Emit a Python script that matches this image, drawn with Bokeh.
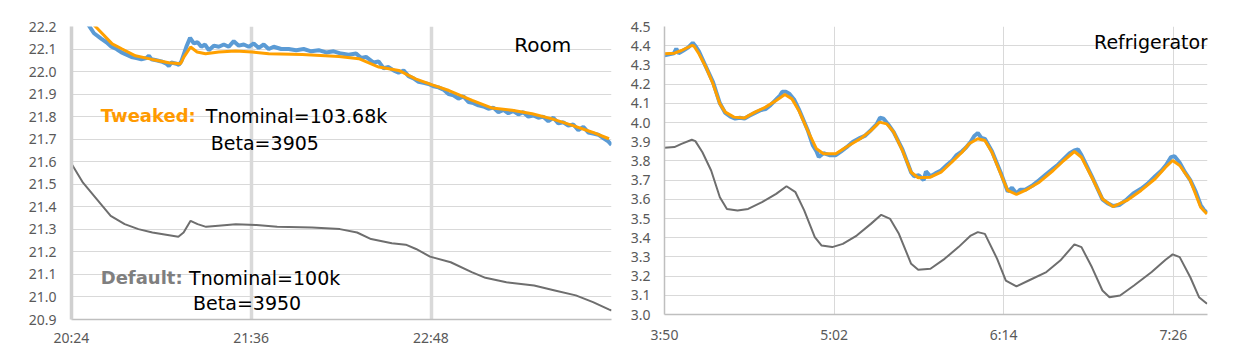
from bokeh.plotting import figure
from bokeh.models import Range1d, FixedTicker, Label, PrintfTickFormatter
from bokeh.layouts import row
from bokeh.embed import file_html
from bokeh.resources import INLINE

# ---------------- Room (times in minutes since midnight) ----------------
room_tick_values = [1224, 1296, 1368]
room_tick_labels = ["20:24", "21:36", "22:48"]
room_y_ticks = [20.9, 21.0, 21.1, 21.2, 21.3, 21.4, 21.5, 21.6, 21.7, 21.8, 21.9, 22.0, 22.1, 22.2]

room_blue_t = [1224, 1227, 1230, 1233, 1236, 1238, 1240, 1242, 1244, 1246, 1248, 1250, 1252, 1254,
               1255, 1256, 1258, 1260, 1262, 1263, 1264, 1266, 1267, 1268, 1270, 1271.5, 1273, 1274.5,
               1276, 1277.5, 1279, 1281, 1283, 1285, 1287, 1289, 1291, 1293, 1295, 1297, 1299, 1301,
               1303, 1305, 1308, 1311, 1314, 1317, 1320, 1323, 1326, 1329, 1332, 1335, 1338, 1340,
               1342, 1345, 1347, 1349, 1351, 1353, 1355, 1357, 1359, 1361, 1363, 1365, 1367, 1369,
               1371, 1373, 1375, 1377, 1379, 1381, 1383, 1385, 1387, 1389, 1391, 1393, 1395, 1397,
               1399, 1401, 1403, 1405, 1407, 1409, 1411, 1413, 1415, 1417, 1419, 1421, 1423, 1425,
               1427, 1429, 1431, 1433, 1435, 1437, 1439, 1440.3]
room_blue_v = [22.37, 22.29, 22.22, 22.17, 22.145, 22.13, 22.11, 22.10, 22.085, 22.075, 22.065, 22.06,
               22.055, 22.06, 22.07, 22.055, 22.05, 22.045, 22.035, 22.025, 22.04, 22.035, 22.03, 22.045,
               22.11, 22.15, 22.125, 22.13, 22.11, 22.12, 22.095, 22.115, 22.11, 22.12, 22.11, 22.135,
               22.115, 22.12, 22.11, 22.125, 22.105, 22.12, 22.10, 22.11, 22.10, 22.10, 22.095, 22.10,
               22.09, 22.095, 22.085, 22.09, 22.08, 22.075, 22.08, 22.06, 22.065, 22.04, 22.045, 22.015,
               22.02, 22.005, 21.995, 22.005, 21.98, 21.97, 21.955, 21.95, 21.945, 21.935, 21.93, 21.92,
               21.90, 21.895, 21.88, 21.89, 21.865, 21.86, 21.85, 21.845, 21.835, 21.84, 21.82, 21.83,
               21.815, 21.825, 21.81, 21.82, 21.80, 21.805, 21.795, 21.80, 21.78, 21.795, 21.77, 21.775,
               21.76, 21.765, 21.74, 21.755, 21.73, 21.725, 21.72, 21.705, 21.69, 21.675]

room_orange_t = [1224, 1228, 1233.6, 1240.3, 1244.3, 1249.6, 1256.3, 1263, 1267.7, 1269, 1271.7,
                 1274.3, 1277.7, 1283, 1289.7, 1296.4, 1303, 1316.4, 1331.1, 1339.1, 1347.1, 1355.1,
                 1361.8, 1368.5, 1375.2, 1384.5, 1392.5, 1400.5, 1408.5, 1416.5, 1424.6, 1432.6, 1439.3]
room_orange_v = [22.35, 22.27, 22.20, 22.123, 22.10, 22.07, 22.054, 22.039, 22.035, 22.064, 22.109,
                 22.087, 22.079, 22.087, 22.091, 22.087, 22.079, 22.076, 22.067, 22.057, 22.02, 22.005,
                 21.968, 21.941, 21.916, 21.872, 21.838, 21.828, 21.813, 21.79, 21.761, 21.731, 21.702]

room_gray_t = [1224, 1228.6, 1234.1, 1239.7, 1245.3, 1250.8, 1256.4, 1261.9, 1266.8, 1268.9, 1271.7,
               1274.5, 1277.9, 1282.8, 1289.8, 1298.1, 1306.4, 1320.3, 1331.5, 1338.4, 1344, 1352.3,
               1357.9, 1362, 1367.6, 1375.9, 1384.3, 1389.8, 1398.2, 1409.3, 1417.6, 1426, 1432.9,
               1439.2, 1440.3]
room_gray_v = [21.591, 21.507, 21.434, 21.36, 21.323, 21.301, 21.286, 21.276, 21.267, 21.286, 21.338,
               21.323, 21.311, 21.316, 21.323, 21.319, 21.311, 21.308, 21.301, 21.286, 21.257, 21.238,
               21.232, 21.213, 21.179, 21.154, 21.11, 21.085, 21.065, 21.051, 21.029, 21.007, 20.977,
               20.945, 20.94]

# ---------------- Refrigerator ----------------
fridge_tick_values = [230, 302, 374, 446]
fridge_tick_labels = ["3:50", "5:02", "6:14", "7:26"]
fridge_y_ticks = [3.0, 3.1, 3.2, 3.3, 3.4, 3.5, 3.6, 3.7, 3.8, 3.9, 4.0, 4.1, 4.2, 4.3, 4.4, 4.5]

fridge_blue_t = [230, 232, 234, 235, 236, 238, 240, 242, 243, 244.6, 247.6, 250.6, 253.5, 255.8, 258,
                 260, 262, 264, 266, 268.4, 271, 273, 275, 277.4, 279, 280, 281.5, 283, 285, 287, 290.8,
                 293, 294.5, 295.5, 297.5, 300, 302.7, 305, 307.2, 310, 313.1, 315, 317.6, 320, 321.5,
                 323, 325, 327.3, 331, 334.7, 336, 338, 340, 341, 342.9, 345, 347.4, 350, 352, 354,
                 356.3, 358, 360, 361.5, 363, 364.5, 366, 369, 372.7, 375.7, 377.5, 379.4, 381, 383.1,
                 386, 389.1, 392, 395, 397, 399.5, 402, 404, 405.5, 407, 411.4, 415.9, 418, 420.4, 423,
                 426.3, 429, 432.3, 435, 438.3, 441, 443, 445, 446.5, 448.7, 451, 453.2, 455.5, 457.6,
                 459, 460.3]
fridge_blue_v = [4.35, 4.355, 4.36, 4.385, 4.36, 4.375, 4.39, 4.415, 4.40, 4.37, 4.29, 4.21, 4.10,
                 4.05, 4.03, 4.02, 4.025, 4.02, 4.035, 4.05, 4.065, 4.07, 4.09, 4.12, 4.14, 4.16, 4.16,
                 4.15, 4.12, 4.07, 3.96, 3.88, 3.85, 3.82, 3.84, 3.83, 3.83, 3.85, 3.87, 3.90, 3.92,
                 3.93, 3.96, 3.99, 4.025, 4.02, 3.99, 3.95, 3.86, 3.74, 3.72, 3.725, 3.70, 3.745, 3.72,
                 3.735, 3.75, 3.78, 3.80, 3.83, 3.85, 3.87, 3.90, 3.93, 3.945, 3.92, 3.915, 3.85, 3.74,
                 3.64, 3.66, 3.63, 3.65, 3.65, 3.67, 3.70, 3.73, 3.76, 3.78, 3.81, 3.84, 3.855, 3.86,
                 3.83, 3.72, 3.60, 3.58, 3.565, 3.57, 3.60, 3.63, 3.655, 3.68, 3.72, 3.75, 3.78, 3.82,
                 3.825, 3.79, 3.74, 3.70, 3.64, 3.57, 3.545, 3.53]

fridge_orange_t = [230, 234.2, 237.2, 241.6, 242.4, 244.6, 247.6, 250.6, 253.5, 255.8, 259.5, 264,
                   268.4, 272.9, 277.4, 281.1, 284.1, 287, 290.8, 294.5, 297.5, 302.7, 307.2, 313.1,
                   317.6, 321.3, 324.3, 327.3, 331, 334.7, 337.7, 342.9, 347.4, 351.9, 356.3, 359.3,
                   363, 366, 369, 372.7, 375.7, 379.4, 383.1, 389.1, 395, 399.5, 404, 407, 411.4,
                   415.9, 420.4, 426.3, 432.3, 438.3, 442.7, 445.7, 448.7, 453.2, 457.6, 460.3]
fridge_orange_v = [4.358, 4.361, 4.375, 4.401, 4.40, 4.358, 4.288, 4.201, 4.097, 4.054, 4.028, 4.024,
                   4.054, 4.08, 4.115, 4.146, 4.123, 4.063, 3.958, 3.863, 3.837, 3.837, 3.872, 3.915,
                   3.958, 4.002, 3.993, 3.95, 3.854, 3.741, 3.712, 3.715, 3.741, 3.793, 3.845, 3.889,
                   3.915, 3.906, 3.845, 3.733, 3.646, 3.625, 3.646, 3.689, 3.75, 3.802, 3.849, 3.819,
                   3.715, 3.602, 3.562, 3.594, 3.646, 3.707, 3.767, 3.802, 3.776, 3.698, 3.559, 3.524]

fridge_gray_t = [230, 234.2, 237.2, 241.6, 243.1, 246.1, 249.8, 253.5, 256.5, 261, 265.5, 271.4,
                 277.4, 281.8, 285.6, 289.3, 293.8, 296.7, 301.2, 305.7, 311.6, 317.6, 322, 325.8,
                 329.5, 334.7, 337.7, 342.9, 348.9, 354.8, 360, 363, 366, 371.2, 374.9, 379.4, 384.6,
                 392.1, 398, 404, 407, 411.4, 415.9, 418.9, 423.4, 429.3, 436.8, 442.7, 445.7, 448.7,
                 453.2, 456.9, 460.3]
fridge_gray_v = [3.868, 3.872, 3.889, 3.91, 3.903, 3.845, 3.75, 3.611, 3.55, 3.542, 3.55, 3.585,
                 3.628, 3.668, 3.637, 3.542, 3.403, 3.359, 3.351, 3.368, 3.411, 3.472, 3.519, 3.498,
                 3.42, 3.264, 3.233, 3.238, 3.29, 3.351, 3.411, 3.429, 3.42, 3.29, 3.177, 3.146, 3.177,
                 3.221, 3.281, 3.365, 3.351, 3.247, 3.125, 3.09, 3.099, 3.151, 3.221, 3.285, 3.313,
                 3.299, 3.194, 3.09, 3.056]

BLUE = "#5B9BD5"
ORANGE = "#FFA000"
GRAY = "#6E6E6E"
GRID = "#D9D9D9"
TICK_FONT = "Noto Sans"
TEXT_FONT = "DejaVu Sans"


def style(p, xticks, xlabels, yticks, thick_axis):
    p.outline_line_color = None
    p.background_fill_color = "white"
    p.border_fill_color = "white"
    p.xaxis.ticker = FixedTicker(ticks=xticks)
    p.xaxis.major_label_overrides = {v: s for v, s in zip(xticks, xlabels)}
    p.yaxis.ticker = FixedTicker(ticks=yticks)
    p.yaxis.formatter = PrintfTickFormatter(format="%.1f")
    for ax in (p.xaxis[0], p.yaxis[0]):
        ax.major_tick_line_color = None
        ax.minor_tick_line_color = None
        ax.major_tick_out = 0
        ax.major_tick_in = 0
        ax.minor_tick_out = 0
        ax.minor_tick_in = 0
        ax.major_label_text_font = TICK_FONT
        ax.major_label_text_font_size = "14px"
        ax.major_label_text_color = "#595959"
        ax.axis_line_color = "#BFBFBF"
        ax.axis_line_width = 1.5
    p.xaxis.major_label_standoff = 8
    p.yaxis.major_label_standoff = 15
    if thick_axis:
        p.yaxis.axis_line_width = 3.5
        p.yaxis.axis_line_color = "#D0D0D0"
    p.ygrid.ticker = FixedTicker(ticks=yticks)
    p.ygrid.grid_line_color = GRID
    p.ygrid.grid_line_width = 1
    p.xgrid.ticker = FixedTicker(ticks=xticks[1:])
    p.xgrid.grid_line_color = GRID
    p.xgrid.grid_line_width = 3.5 if thick_axis else 1


# ---------------- left figure ----------------
p1 = figure(frame_width=540, frame_height=293, min_border_left=71, min_border_right=5,
            min_border_top=23, min_border_bottom=32,
            x_range=Range1d(1224, 1440.3), y_range=Range1d(20.9, 22.2),
            output_backend="svg", toolbar_location=None)
style(p1, room_tick_values, room_tick_labels, room_y_ticks, True)
p1.line(room_blue_t, room_blue_v, line_color=BLUE, line_width=4)
p1.line(room_orange_t, room_orange_v, line_color=ORANGE, line_width=3)
p1.line(room_gray_t, room_gray_v, line_color=GRAY, line_width=2)

p1.add_layout(Label(x=1412.8, y=22.120, text="Room", text_font=TEXT_FONT, text_font_size="20px",
                    text_color="black", text_align="center", text_baseline="alphabetic"))
p1.add_layout(Label(x=1235.7, y=21.803, text="Tweaked:", text_font=TEXT_FONT, text_font_size="18px",
                    text_font_style="bold", text_color="#FF9A00", text_baseline="alphabetic"))
p1.add_layout(Label(x=1277.8, y=21.803, text="Tnominal=103.68k", text_font=TEXT_FONT,
                    text_font_size="19px", text_color="black", text_baseline="alphabetic"))
p1.add_layout(Label(x=1279.8, y=21.683, text="Beta=3905", text_font=TEXT_FONT,
                    text_font_size="19px", text_color="black", text_baseline="alphabetic"))
p1.add_layout(Label(x=1235.7, y=21.086, text="Default:", text_font=TEXT_FONT, text_font_size="18px",
                    text_font_style="bold", text_color="#7F7F7F", text_baseline="alphabetic"))
p1.add_layout(Label(x=1271.1, y=21.086, text="Tnominal=100k", text_font=TEXT_FONT,
                    text_font_size="19px", text_color="black", text_baseline="alphabetic"))
p1.add_layout(Label(x=1272.7, y=20.974, text="Beta=3950", text_font=TEXT_FONT,
                    text_font_size="19px", text_color="black", text_baseline="alphabetic"))

# ---------------- right figure ----------------
p2 = figure(frame_width=543, frame_height=288, min_border_left=48, min_border_right=17,
            min_border_top=26, min_border_bottom=34,
            x_range=Range1d(230, 460.5), y_range=Range1d(3.0, 4.5),
            output_backend="svg", toolbar_location=None)
style(p2, fridge_tick_values, fridge_tick_labels, fridge_y_ticks, False)
p2.yaxis.major_label_standoff = 14
p2.xaxis.major_label_standoff = 10
p2.line(fridge_blue_t, fridge_blue_v, line_color=BLUE, line_width=4)
p2.line(fridge_orange_t, fridge_orange_v, line_color=ORANGE, line_width=3)
p2.line(fridge_gray_t, fridge_gray_v, line_color=GRAY, line_width=2)
p2.add_layout(Label(x=460.7, y=4.42, text="Refrigerator", text_font=TEXT_FONT, text_font_size="19px",
                    text_color="black", text_align="right", text_baseline="alphabetic"))

layout = row(p1, p2)
open("out.html", "w").write(file_html(layout, INLINE))
